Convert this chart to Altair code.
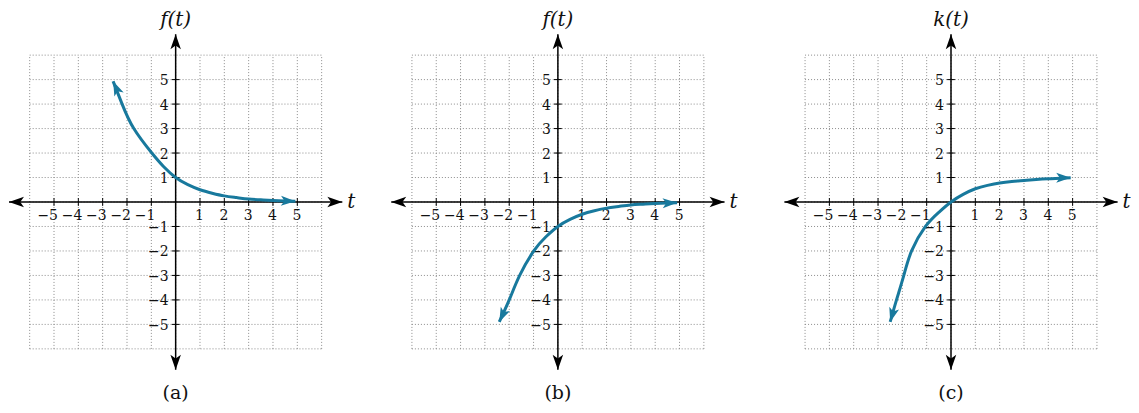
import altair as alt
import pandas as pd

# ---- chart values ----
GRID = list(range(-6, 7))
TICKS = [-5, -4, -3, -2, -1, 1, 2, 3, 4, 5]
TICK_LABELS = ["\u22125", "\u22124", "\u22123", "\u22122", "\u22121", "1", "2", "3", "4", "5"]

A_T = [-2.57, -2.2, -1.72, -0.98, -0.5, 0.0, 0.5, 1.0, 1.5, 2.0, 2.5, 3.0, 3.5, 4.0, 4.5, 4.92]
A_F = [4.93, 4.0, 3.0, 2.0, 1.45, 1.0, 0.71, 0.5, 0.36, 0.25, 0.18, 0.12, 0.09, 0.06, 0.04, 0.03]

B_T = [-2.41, -2.0, -1.57, -0.99, -0.5, 0.0, 0.5, 1.0, 1.5, 2.0, 2.5, 3.0, 3.5, 4.0, 4.5, 4.9]
B_F = [-4.9, -4.0, -3.0, -2.0, -1.43, -1.0, -0.71, -0.5, -0.36, -0.25, -0.18, -0.12, -0.09, -0.06, -0.04, -0.03]

C_T = [-2.5, -2.24, -1.94, -1.62, -1.05, -0.5, 0.0, 0.5, 1.0, 1.5, 2.0, 2.5, 3.0, 3.5, 4.0, 4.5, 4.92]
C_K = [-4.9, -4.0, -3.0, -2.0, -1.0, -0.42, 0.0, 0.31, 0.54, 0.68, 0.78, 0.84, 0.88, 0.92, 0.95, 0.97, 0.99]

TITLES = ["f(t)", "f(t)", "k(t)"]
CAPTIONS = ["(a)", "(b)", "(c)"]
AXIS_NAME = "t"

# ---- styling ----
TEAL = "#18799d"
FONT = "DejaVu Serif"
ARROW = "M0,0 L-2,-0.7 L-1.5,0 L-2,0.7 Z"
REACH = 6.85
HEIGHT = 390
YDOM = [-8.0, 7.918]


def panel(t, v, title, caption, xdom, width, a_start, a_end):
    xs = alt.Scale(domain=xdom, nice=False, zero=False)
    ys = alt.Scale(domain=YDOM, nice=False, zero=False)

    def X(f):
        return alt.X(f, type="quantitative", scale=xs, axis=None)

    def Y(f):
        return alt.Y(f, type="quantitative", scale=ys, axis=None)

    gmin, gmax = min(GRID), max(GRID)
    grid = pd.DataFrame({"v": GRID, "lo": gmin, "hi": gmax})
    gstyle = dict(color="#8c8c8c", strokeDash=[1, 2], strokeWidth=1)
    vgrid = alt.Chart(grid).mark_rule(**gstyle).encode(x=X("v"), y=Y("lo"), y2="hi:Q")
    hgrid = alt.Chart(grid).mark_rule(**gstyle).encode(y=Y("v"), x=X("lo"), x2="hi:Q")

    axes_df = pd.DataFrame({"lo": [-REACH], "hi": [REACH], "z": [0]})
    xaxis = alt.Chart(axes_df).mark_rule(color="black", strokeWidth=1.5).encode(
        x=X("lo"), x2="hi:Q", y=Y("z"))
    yaxis = alt.Chart(axes_df).mark_rule(color="black", strokeWidth=1.5).encode(
        y=Y("lo"), y2="hi:Q", x=X("z"))

    heads = pd.DataFrame({
        "x": [REACH, -REACH, 0, 0],
        "y": [0, 0, REACH, -REACH],
        "a": [0, 180, 270, 90],
    })
    axis_heads = alt.Chart(heads).mark_point(
        shape=ARROW, filled=True, size=225, color="black", opacity=1, strokeWidth=0
    ).encode(x=X("x"), y=Y("y"), angle=alt.Angle("a:Q", scale=None))

    tk = pd.DataFrame({"v": TICKS, "label": TICK_LABELS, "lo": -0.16, "hi": 0.16, "z": 0})
    xticks = alt.Chart(tk).mark_rule(color="black", strokeWidth=1).encode(
        x=X("v"), y=Y("lo"), y2="hi:Q")
    yticks = alt.Chart(tk).mark_rule(color="black", strokeWidth=1).encode(
        y=Y("v"), x=X("lo"), x2="hi:Q")
    xlabels = alt.Chart(tk).mark_text(
        align="right", baseline="middle", dx=4, dy=14.5, font=FONT, fontSize=14, color="#111"
    ).encode(x=X("v"), y=Y("z"), text="label:N")
    ylabels = alt.Chart(tk).mark_text(
        align="right", baseline="middle", dx=-7, dy=1.5, font=FONT, fontSize=14, color="#111"
    ).encode(y=Y("v"), x=X("z"), text="label:N")

    ital = pd.DataFrame({"x": [0, 7.22], "y": [7.43, 0], "s": [title, AXIS_NAME]})
    italic_text = alt.Chart(ital).mark_text(
        align="center", baseline="middle", font=FONT, fontSize=20, fontStyle="italic",
        color="#111"
    ).encode(x=X("x"), y=Y("y"), text="s:N")
    cap = pd.DataFrame({"x": [0], "y": [-7.8], "s": [caption]})
    cap_text = alt.Chart(cap).mark_text(
        align="center", baseline="middle", font=FONT, fontSize=19, color="#111"
    ).encode(x=X("x"), y=Y("y"), text="s:N")

    curve_df = pd.DataFrame({"t": t, "v": v})
    curve = alt.Chart(curve_df).mark_line(
        color=TEAL, strokeWidth=3, interpolate="natural"
    ).encode(x=X("t"), y=Y("v"))

    ends = pd.DataFrame({"t": [t[0], t[-1]], "v": [v[0], v[-1]], "a": [a_start, a_end]})
    curve_heads = alt.Chart(ends).mark_point(
        shape=ARROW, filled=True, size=210, color=TEAL, opacity=1, strokeWidth=0
    ).encode(x=X("t"), y=Y("v"), angle=alt.Angle("a:Q", scale=None))

    return alt.layer(
        vgrid, hgrid, xaxis, yaxis, xticks, yticks, axis_heads,
        xlabels, ylabels, italic_text, cap_text, curve, curve_heads
    ).properties(width=width, height=HEIGHT)


pa = panel(A_T, A_F, TITLES[0], CAPTIONS[0], [-6.85, 7.81], 357, 246, 2)
pb = panel(B_T, B_F, TITLES[1], CAPTIONS[1], [-7.90, 8.28], 394, 115, 358)
pc = panel(C_T, C_K, TITLES[2], CAPTIONS[2], [-7.88, 7.40], 372, 106, 0)

chart = alt.hconcat(pa, pb, pc, spacing=0).properties(
    padding=0, background="white"
).configure_view(stroke=None)

chart.save("out.html", embed_options={"renderer": "svg", "actions": False})
